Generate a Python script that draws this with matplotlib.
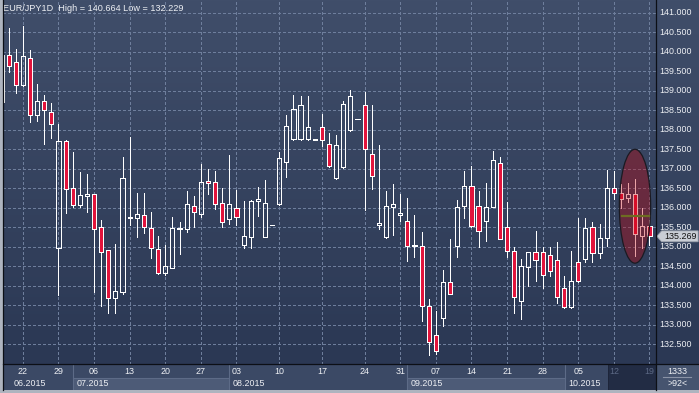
import numpy as np
import matplotlib.pyplot as plt
from matplotlib.patches import Rectangle, Ellipse, Polygon

# ---- data: daily EUR/JPY candles (open, high, low, close) ----
opens = [138.713, 139.910, 139.731, 139.141, 139.833, 138.372, 138.738, 138.449, 134.977, 137.705,
         136.500, 136.080, 136.310, 136.346, 135.500, 134.918, 133.679, 133.849, 135.749, 135.731,
         135.808, 135.474, 134.956, 134.336, 134.464, 135.456, 135.449, 136.038, 135.833, 136.679,
         136.654, 136.115, 135.705, 135.987, 135.038, 135.259, 136.167, 135.259, 135.550, 136.090,
         137.182, 137.756, 137.756, 137.756, 137.750, 138.064, 137.628, 136.756, 137.038, 137.987,
         138.265, 138.628, 137.372, 135.551, 135.239, 136.013, 135.828, 135.656, 135.013, 135.013,
         133.482, 132.731, 133.167, 134.090, 135.013, 136.038, 136.551, 136.038, 135.654, 136.013,
         137.141, 135.500, 134.885, 133.603, 134.474, 134.859, 134.859, 134.782, 134.654, 133.936,
         133.449, 134.603, 134.679, 135.500, 134.833, 135.218, 136.500, 136.372, 136.244, 136.346,
         135.285, 135.541]
highs = [140.046, 140.620, 140.064, 140.664, 140.038, 139.174, 138.892, 138.679, 138.141, 137.738,
         137.431, 136.910, 136.859, 136.350, 135.687, 134.920, 135.072, 137.303, 137.823, 136.379,
         136.379, 135.885, 135.277, 135.046, 135.756, 135.636, 136.431, 136.295, 137.123, 136.995,
         136.944, 136.500, 137.354, 136.456, 136.174, 136.200, 136.533, 136.713, 135.560, 137.423,
         138.379, 138.892, 138.859, 138.859, 137.760, 138.405, 137.910, 137.859, 138.731, 139.021,
         138.275, 138.962, 138.636, 137.603, 136.431, 136.610, 136.349, 136.251, 135.808, 135.372,
         133.654, 133.346, 134.405, 135.200, 136.192, 136.936, 137.064, 136.431, 136.636, 137.449,
         137.295, 136.141, 134.987, 134.679, 134.860, 135.397, 134.987, 134.987, 135.115, 134.244,
         134.885, 135.731, 135.731, 135.644, 135.577, 136.969, 136.951, 136.610, 136.644, 136.731,
         135.987, 135.687]
lows = [138.610, 139.490, 138.936, 139.130, 138.208, 138.233, 137.644, 137.797, 133.764, 135.874,
        136.028, 136.028, 135.900, 133.849, 133.490, 133.295, 133.295, 133.790, 135.559, 135.259,
        135.346, 134.721, 134.303, 134.277, 134.449, 134.815, 135.387, 135.515, 135.772, 136.354,
        135.962, 135.515, 135.577, 135.559, 134.977, 134.977, 135.797, 135.250, 135.550, 136.080,
        136.782, 137.750, 137.750, 137.750, 137.750, 137.577, 137.038, 136.750, 137.030, 137.980,
        138.265, 135.936, 136.474, 135.449, 135.230, 135.290, 135.674, 134.644, 134.726, 133.105,
        132.229, 132.240, 132.962, 133.780, 134.746, 135.731, 135.500, 134.987, 135.141, 136.010,
        135.190, 134.746, 133.295, 133.141, 133.987, 134.115, 133.936, 134.244, 133.551, 133.423,
        133.440, 134.110, 134.618, 134.603, 134.705, 135.028, 136.218, 136.003, 136.141, 134.772,
        134.962, 135.046]
closes = [139.918, 139.644, 139.141, 139.885, 138.372, 138.738, 138.500, 138.141, 137.705, 136.490,
          136.064, 136.321, 136.354, 135.464, 134.859, 133.679, 133.859, 136.756, 135.769, 135.833,
          135.500, 134.977, 134.341, 134.508, 135.474, 135.474, 136.090, 135.885, 136.654, 136.628,
          136.090, 135.628, 136.090, 135.756, 135.277, 136.174, 136.226, 136.115, 135.560, 137.269,
          138.090, 138.526, 138.628, 138.064, 137.760, 137.731, 137.064, 137.603, 138.654, 138.859,
          138.275, 137.500, 136.808, 135.603, 136.038, 136.090, 135.859, 135.013, 135.046, 133.474,
          132.551, 132.321, 134.090, 133.782, 136.013, 136.551, 135.526, 135.397, 136.013, 137.218,
          135.192, 134.885, 133.705, 134.500, 134.859, 134.654, 134.269, 134.372, 133.705, 133.449,
          134.115, 134.115, 135.474, 134.833, 135.218, 136.500, 136.372, 136.218, 136.346, 135.321,
          135.533, 135.269]

# Monday candles (week grid) and their day labels
week_idx = [3, 8, 13, 18, 23, 28, 33, 39, 45, 51, 56, 61, 66, 71, 76, 81, 86, 91]
week_lbl = ['22', '29', '06', '13', '20', '27', '03', '10', '17', '24', '31',
            '07', '14', '21', '28', '05', '12', '19']
month_lbl = ['06.2015', '07.2015', '08.2015', '09.2015', '10.2015']
month_start = [-0.2, 10.05, 31.95, 56.95, 79.15]
price_ticks = np.arange(132.5, 141.01, 0.5)
last_price = 135.269
title = 'EUR/JPY1D  High = 140.664 Low = 132.229'

W, H = 699, 393
XMIN, XMAX = 0.21, 91.92
YMIN, YMAX = 131.995, 141.328
UP_BG = (64/255, 78/255, 106/255)
DN_BG = (43/255, 56/255, 84/255)
RED = '#e2143c'
TXT = '#eef0f4'
GRID = '#6e7e9c'
LW = 0.72   # one pixel
plt.rcParams['font.family'] = ['Liberation Sans', 'DejaVu Sans']


def fax(x0, y0, x1, y1):
    # axes from a pixel box (top-left origin)
    return fig.add_axes([x0 / W, 1 - y1 / H, (x1 - x0) / W, (y1 - y0) / H])


fig = plt.figure(figsize=(W / 100, H / 100), dpi=100)
fig.patch.set_facecolor('#aeb4bf')

# ---------------- main price panel ----------------
ax = fax(3, 0, 656, 364)
grad = np.linspace(0, 1, 256)[:, None, None]
bg = np.array(UP_BG)[None, None, :] * (1 - grad) + np.array(DN_BG)[None, None, :] * grad
ax.imshow(bg, extent=[XMIN, XMAX, YMIN, YMAX], aspect='auto', origin='upper', zorder=0)
ax.set_xlim(XMIN, XMAX)
ax.set_ylim(YMIN, YMAX)
ax.axis('off')

for p in price_ticks:
    ax.axhline(p, color=GRID, lw=LW, dashes=(2.2, 2.2), zorder=1, antialiased=False)
for i in week_idx:
    ax.axvline(i, color=GRID, lw=LW, dashes=(2.2, 2.2), zorder=1, antialiased=False)

bw = 0.58
for i, (o, h, l, c) in enumerate(zip(opens, highs, lows, closes)):
    top, bot = max(o, c), min(o, c)
    ax.plot([i, i], [top, h], color='white', lw=LW, zorder=2, antialiased=False,
            solid_capstyle='butt')
    ax.plot([i, i], [l, bot], color='white', lw=LW, zorder=2, antialiased=False,
            solid_capstyle='butt')
    fc = RED if c < o else 'none'
    ax.add_patch(Rectangle((i - bw / 2, bot), bw, top - bot, facecolor=fc, edgecolor='white',
                           lw=LW, zorder=3, antialiased=False))

# highlight ellipse over the last days
ax.add_patch(Ellipse((88.97, 136.04), 4.4, 2.92, facecolor=(198/255, 2/255, 9/255, 0.36),
                     edgecolor='#1a1a22', lw=0.9, zorder=4))
ax.plot([87.1, 91.0], [135.80, 135.80], color='#6e6c22', lw=1.6, zorder=5)

ax.text(0.0, 0.978, title, transform=ax.transAxes, color=TXT, fontsize=6.6,
        ha='left', va='center', zorder=6)

# ---------------- price axis ----------------
pax = fax(656, 0, 699, 364)
pax.imshow(bg, extent=[0, 1, YMIN, YMAX], aspect='auto', origin='upper', zorder=0)
pax.set_xlim(0, 1)
pax.set_ylim(YMIN, YMAX)
pax.axis('off')
for p in price_ticks:
    pax.text(3 / 43, p, f'{p:.3f}', color=TXT, fontsize=6.4, ha='left', va='center')
tag = Polygon([[0.02, last_price], [0.13, last_price + 0.14], [0.98, last_price + 0.14],
               [0.98, last_price - 0.14], [0.13, last_price - 0.14]],
              closed=True, facecolor='#c9cdd5', edgecolor='#9aa0ab', lw=0.6, zorder=3)
pax.add_patch(tag)
pax.text(0.56, last_price, f'{last_price:.3f}', color='#111111', fontsize=6.4,
         ha='center', va='center', zorder=4)

# ---------------- date axis ----------------
dax = fax(3, 364, 656, 390)
dax.set_xlim(XMIN, XMAX)
dax.set_ylim(0, 1)
dax.axis('off')
dax.add_patch(Rectangle((XMIN, 0), XMAX - XMIN, 1, facecolor='#3b4965', edgecolor='none', zorder=0))
bounds = month_start + [85.2]
for k, name in enumerate(month_lbl):
    x0, x1 = bounds[k], bounds[k + 1]
    if k % 2 == 1:
        dax.add_patch(Rectangle((x0, 0), x1 - x0, 0.47, facecolor='#4d5b77',
                                edgecolor='none', zorder=1))
        dax.plot([x0, x1], [0.47, 0.47], color='#5d6b87', lw=0.8, zorder=2)
    if k > 0:
        dax.plot([x0, x0], [0, 1], color='#5d6b87', lw=0.8, zorder=2)
    dax.text(max(x0, 1.2) + 0.45, 0.25, name, color=TXT, fontsize=6.4, ha='left',
             va='center', zorder=3)
dax.add_patch(Rectangle((85.2, 0), XMAX - 85.2, 1, facecolor='#222c44', edgecolor='#1a2236',
                        lw=0.6, zorder=2))
for i, lbl in zip(week_idx, week_lbl):
    col = '#5c6985' if i > 85.2 else TXT
    dax.text(i, 0.7, lbl, color=col, fontsize=6.4, ha='center', va='center', zorder=3)

# ---------------- corner box ----------------
cax = fax(656, 364, 699, 390)
cax.set_xlim(0, 1)
cax.set_ylim(0, 1)
cax.axis('off')
cax.add_patch(Rectangle((0, 0), 1, 1, facecolor='#46546f', edgecolor='none'))
cax.text(0.5, 0.73, '1333', color=TXT, fontsize=6.4, ha='center', va='center')
cax.plot([0.16, 0.82], [0.5, 0.5], color='#8a93a6', lw=0.8)
cax.text(0.5, 0.24, '>92<', color=TXT, fontsize=6.4, ha='center', va='center')

# separating black lines
lax = fax(0, 0, 699, 393)
lax.set_xlim(0, W)
lax.set_ylim(H, 0)
lax.axis('off')
lax.patch.set_alpha(0)
lax.plot([656, 656], [0, 390], color='#0c0f16', lw=0.9)
lax.plot([3, 699], [363.5, 363.5], color='#0c0f16', lw=0.9)
lax.plot([3, 3], [0, 390], color='#0c0f16', lw=0.9)

fig.savefig('out.png', dpi=100)
